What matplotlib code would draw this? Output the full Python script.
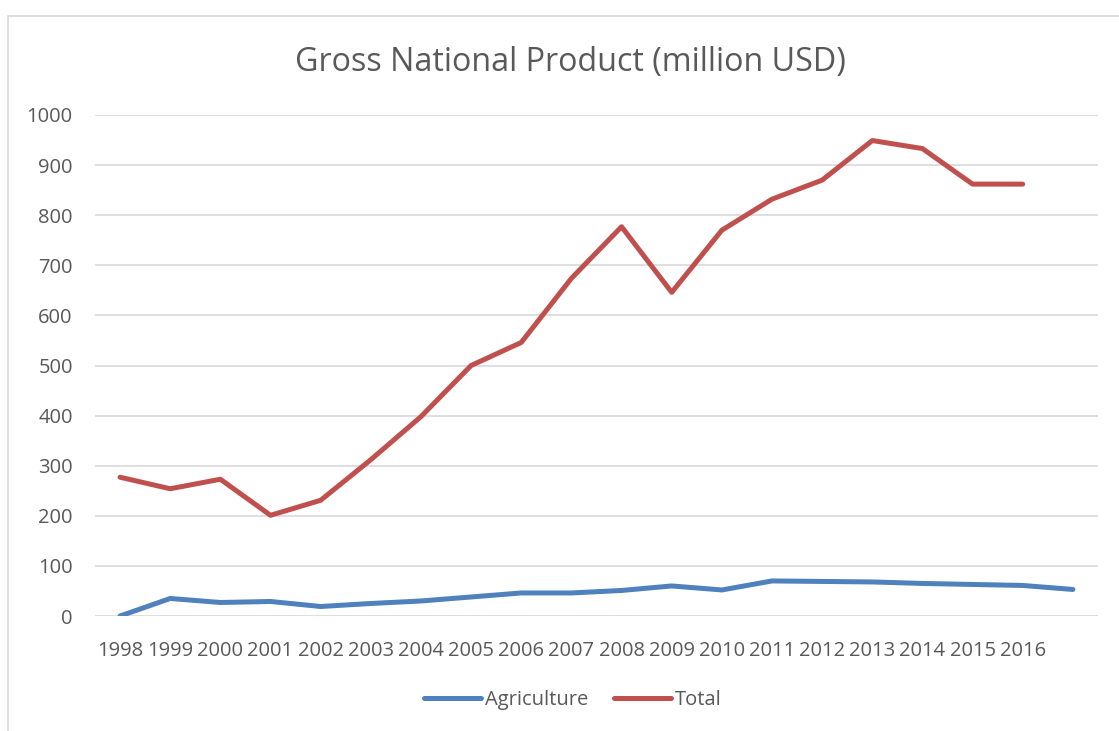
import matplotlib
matplotlib.use('Agg')
import matplotlib.pyplot as plt
from matplotlib.patches import Rectangle

# values
years = ['1998', '1999', '2000', '2001', '2002', '2003', '2004', '2005', '2006', '2007',
         '2008', '2009', '2010', '2011', '2012', '2013', '2014', '2015', '2016', '']
agriculture = [0, 35, 27, 29, 19, 25, 30, 38, 46, 46,
               51, 60, 52, 70, 69, 68, 65, 63, 61, 53]
total = [277, 254, 273, 201, 231, 312, 398, 500, 546, 674,
         777, 646, 770, 832, 870, 949, 933, 862, 862]

text_col = '#595959'
plt.rcParams['font.family'] = ['Open Sans', 'DejaVu Sans']

fig = plt.figure(figsize=(11.19, 7.31), dpi=100)
ax = fig.add_axes([0.0849, 0.1573, 0.8963, 0.6854])

# light frame around the chart area
fig.patches.append(Rectangle((8 / 1119, -0.01), 1.02, 1 - 16 / 731 + 0.01,
                             transform=fig.transFigure, fill=False,
                             edgecolor='#d9d9d9', linewidth=1.2))

x_ag = list(range(len(agriculture)))
x_tot = list(range(len(total)))
ax.plot(x_ag, agriculture, color='#4F81BD', linewidth=3.6,
        solid_capstyle='round', solid_joinstyle='round', label='Agriculture')
ax.plot(x_tot, total, color='#C0504D', linewidth=3.6,
        solid_capstyle='round', solid_joinstyle='round', label='Total')

ax.set_xlim(-0.5, len(years) - 0.5)
ax.set_ylim(0, 1000)
ax.set_yticks(range(0, 1001, 100))
ax.set_xticks(range(len(years)))
ax.set_xticklabels(years)
ax.grid(axis='y', color='#d9d9d9', linewidth=1.2)
ax.set_axisbelow(True)
for s in ax.spines.values():
    s.set_visible(False)
ax.tick_params(axis='both', length=0, labelsize=14.5, colors=text_col)
ax.tick_params(axis='y', pad=16)
ax.tick_params(axis='x', pad=18)

fig.text(570 / 1119, 1 - 62 / 731, 'Gross National Product (million USD)',
         ha='center', va='center', fontsize=23.2, color=text_col)

leg = fig.legend(loc='center', bbox_to_anchor=(573 / 1119, 1 - 700 / 731), ncol=2,
                 frameon=False, fontsize=14.5, handlelength=2.8,
                 handletextpad=0.2, columnspacing=1.3)
for t in leg.get_texts():
    t.set_color(text_col)

fig.savefig('out.png', dpi=100)
